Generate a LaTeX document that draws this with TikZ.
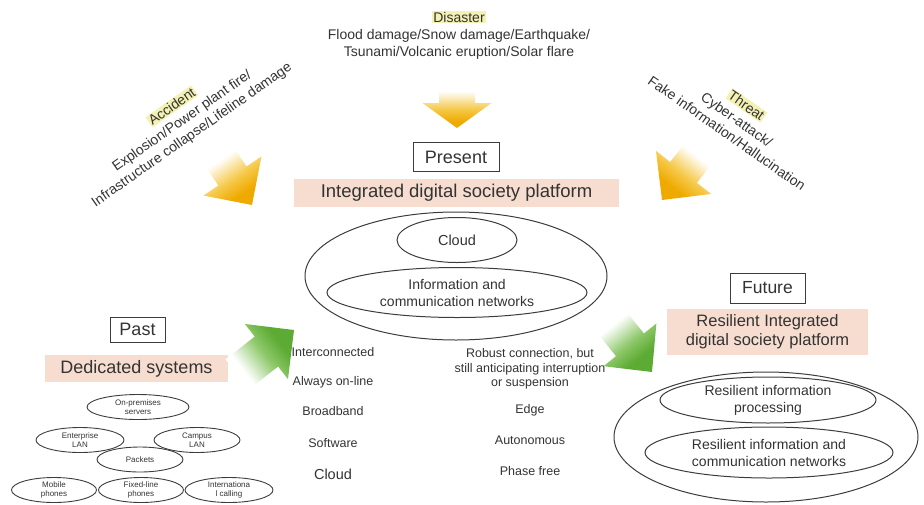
\documentclass[tikz,border=0pt]{standalone}
\usepackage{fontspec}
\setmainfont{Liberation Sans}
\usetikzlibrary{shapes.geometric}
\definecolor{inkgray}{HTML}{333333}
\definecolor{linegray}{HTML}{3C3C3C}
\definecolor{bandpink}{HTML}{F7DDCF}
\definecolor{hlyellow}{HTML}{F4F1B4}
\definecolor{arrorange}{HTML}{EFAA00}
\definecolor{arrorangemid}{HTML}{F5C94A}
\definecolor{arrgreen}{HTML}{5DAB34}
\definecolor{arrgreenmid}{HTML}{8EC86A}
\setlength{\fboxsep}{1pt}
% fades: strong colour at the bottom (0bp), white at the top
\pgfdeclareverticalshading{orangefade}{100bp}{color(0bp)=(arrorange); color(32bp)=(arrorange); color(46bp)=(arrorangemid); color(66bp)=(white); color(100bp)=(white)}
\pgfdeclareverticalshading{greenfade}{100bp}{color(0bp)=(arrgreen); color(32bp)=(arrgreen); color(46bp)=(arrgreenmid); color(66bp)=(white); color(100bp)=(white)}
% block arrow pointing along the local x axis, tip at the origin
% #1 tip, #2 angle, #3 length, #4 head length, #5 head half-width, #6 shaft half-width,
% #7 shading, #8 shading angle
\newcommand{\blockarrow}[8]{%
  \begin{scope}[shift={#1},rotate=#2]
    \shade[shading=#7,shading angle=#8,draw=none]
      (0,0) -- (-#4,#5) -- (-#4,#6) -- (-#3,#6) -- (-#3,-#6) -- (-#4,-#6) -- (-#4,-#5) -- cycle;
  \end{scope}}
\tikzset{
  txt/.style={text=inkgray,inner sep=1pt,align=center},
  erabox/.style={draw=linegray,line width=1pt,text=inkgray,inner sep=0pt},
  band/.style={fill=bandpink,text=inkgray,inner sep=0pt,align=center},
  ring/.style={ellipse,draw=linegray,line width=1pt,inner sep=0pt,text=inkgray,align=center},
  tiny/.style={ring,line width=0.9pt,font=\fontsize{8}{9}\selectfont},
}
\begin{document}
\begin{tikzpicture}[x=1pt,y=-1pt]
\useasboundingbox (0,0) rectangle (924,504);

% hazards
\node[txt,font=\fontsize{14}{17}\selectfont] (disaster) at (459,35)
  {\colorbox{hlyellow}{Disaster}\\Flood damage/Snow damage/Earthquake/\\Tsunami/Volcanic eruption/Solar flare};
\node[txt,rotate=35,font=\fontsize{14}{17}\selectfont] (accident) at (182,121)
  {\colorbox{hlyellow}{Accident}\\Explosion/Power plant fire/\\Infrastructure collapse/Lifeline damage};
\node[txt,rotate=-35,font=\fontsize{14}{17}\selectfont] (threat) at (737,119)
  {\colorbox{hlyellow}{Threat}\\Cyber-attack/\\Fake information/Hallucination};

% arrows of the hazards
\coordinate (tipD) at (457,128);
\coordinate (tipA) at (252,205);
\coordinate (tipT) at (662,200);
\blockarrow{(tipD)}{-90}{45}{25}{34.5}{18}{orangefade}{0}
\blockarrow{(tipA)}{-56}{62}{35}{35}{17}{orangefade}{34}
\blockarrow{(tipT)}{-128}{62}{35}{35}{17}{orangefade}{-38}

% present
\node[erabox,minimum width=86,minimum height=29,font=\fontsize{18}{20}\selectfont] (present) at (456,157) {Present};
\node[band,minimum width=325,minimum height=28,font=\fontsize{18.5}{20}\selectfont] (idsp) at (456.5,193) {Integrated digital society platform};
\node[ring,minimum width=302,minimum height=128] (platform) at (456,276) {};
\node[ring,minimum width=120,minimum height=45,font=\fontsize{14.5}{16}\selectfont] (cloud) at (457,240) {Cloud};
\node[ring,minimum width=260,minimum height=50,font=\fontsize{14}{17}\selectfont] (icn) at (457,292.5)
  {Information and\\communication networks};

% features of the present and the future
\begin{scope}[every node/.style={txt,font=\fontsize{12.5}{14.5}\selectfont}]
\node (f1) at (333,352) {Interconnected};
\node (f2) at (333,382) {Always on-line};
\node (f3) at (333,411) {Broadband};
\node (f4) at (333,443) {Software};
\node[font=\fontsize{14.5}{16}\selectfont] (f5) at (333,474) {Cloud};
\node (g1) at (530,369) {Robust connection, but\\still anticipating interruption\\or suspension};
\node (g2) at (530,410) {Edge};
\node (g3) at (530,440) {Autonomous};
\node (g4) at (530,471) {Phase free};
\end{scope}

% past
\node[erabox,minimum width=55,minimum height=25,font=\fontsize{18}{20}\selectfont] (past) at (137.5,329.5) {Past};
\node[band,minimum width=183,minimum height=27,font=\fontsize{18}{20}\selectfont] (dedicated) at (136.5,368.5) {Dedicated systems};
\node[tiny,minimum width=102,minimum height=25] (onprem) at (138,407) {On-premises\\servers};
\node[tiny,minimum width=88,minimum height=25] (entlan) at (80,440) {Enterprise\\LAN};
\node[tiny,minimum width=86,minimum height=25] (camlan) at (197,440) {Campus\\LAN};
\node[tiny,minimum width=86,minimum height=25] (packets) at (140,459.5) {Packets};
\node[tiny,minimum width=85,minimum height=25] (mobile) at (54,490) {Mobile\\phones};
\node[tiny,minimum width=85,minimum height=25] (fixed) at (141,490) {Fixed-line\\phones};
\node[tiny,minimum width=88,minimum height=25] (intl) at (229,490) {Internationa\\l calling};

% transitions
\coordinate (tipP) at (294,330);
\coordinate (tipF) at (652,372);
\blockarrow{(tipP)}{38}{72}{35}{35}{19}{greenfade}{128}
\blockarrow{(tipF)}{-51}{68}{35}{34}{18}{greenfade}{39}

% future
\node[erabox,minimum width=75,minimum height=30,font=\fontsize{17.5}{20}\selectfont] (future) at (767.5,288) {Future};
\node[band,minimum width=201,minimum height=46,font=\fontsize{16.5}{19}\selectfont] (ridsp) at (767.5,332)
  {Resilient Integrated\\digital society platform};
\node[ring,minimum width=304,minimum height=130] (rplatform) at (766,437) {};
\node[ring,minimum width=216,minimum height=46,font=\fontsize{14}{17}\selectfont] (rproc) at (768,400)
  {Resilient information\\processing};
\node[ring,minimum width=248,minimum height=51,font=\fontsize{14}{17}\selectfont] (ricn) at (769,452.5)
  {Resilient information and\\communication networks};
\end{tikzpicture}
\end{document}
